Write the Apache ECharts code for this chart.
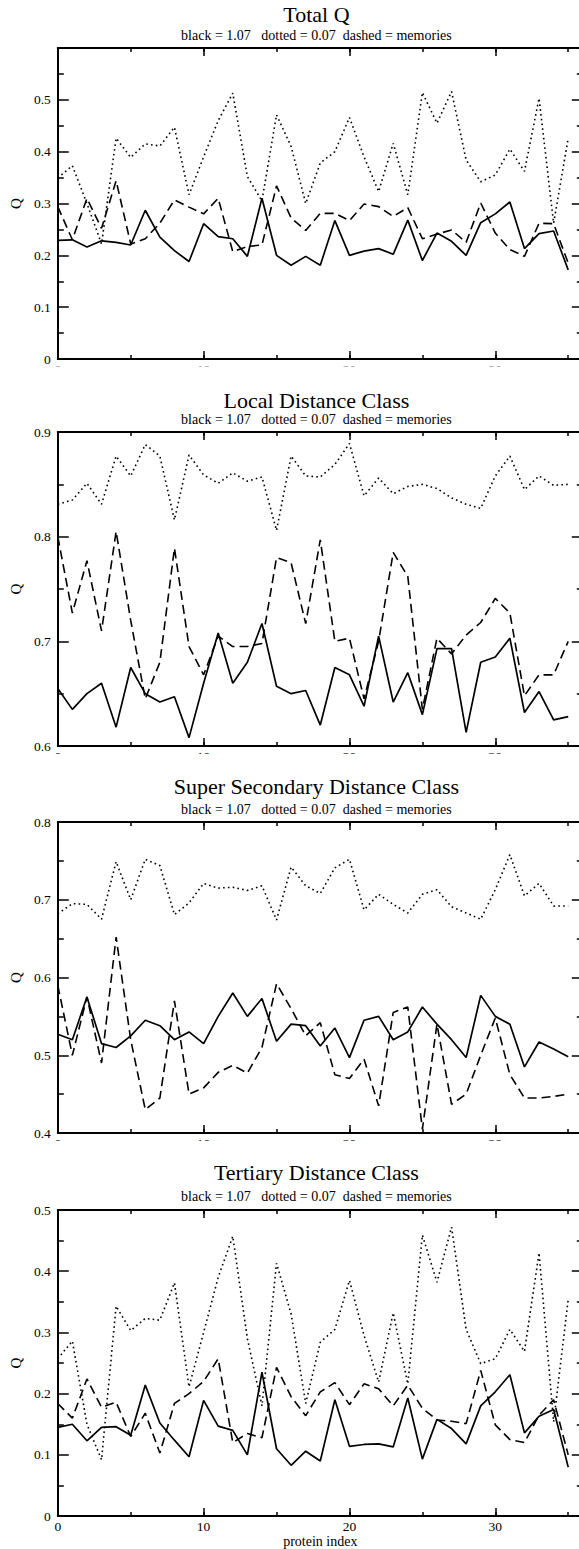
<!DOCTYPE html>
<html>
<head>
<meta charset="utf-8">
<script src="https://cdn.jsdelivr.net/npm/echarts@6/dist/echarts.min.js"></script>
<style>
html,body{margin:0;padding:0;background:#fff;overflow:hidden;}
#chart{width:600px;height:1549px;}
</style>
</head>
<body>
<div id="chart"></div>
<script>
// ---------------- data ----------------
const proteinIndex = [0,1,2,3,4,5,6,7,8,9,10,11,12,13,14,15,16,17,18,19,20,21,22,23,24,25,26,27,28,29,30,31,32,33,34,35];

const panelTitles = ['Total Q', 'Local Distance Class', 'Super Secondary Distance Class', 'Tertiary Distance Class'];
const subtitleText = 'black = 1.07\u00a0\u00a0 dotted = 0.07\u00a0 dashed = memories';
const yAxisName = 'Q';
const xAxisName = 'protein index';
const panelYMin = [0, 0.6, 0.4, 0];
const panelYMax = [0.6, 0.9, 0.8, 0.5];

const totalBlack  = [0.229,0.230,0.216,0.228,0.225,0.220,0.287,0.235,0.209,0.188,0.261,0.236,0.232,0.198,0.310,0.200,0.181,0.198,0.181,0.267,0.200,0.208,0.213,0.202,0.268,0.190,0.243,0.227,0.200,0.263,0.280,0.303,0.213,0.242,0.247,0.172];
const totalDotted = [0.349,0.373,0.300,0.222,0.426,0.389,0.415,0.411,0.447,0.317,0.390,0.460,0.513,0.352,0.305,0.471,0.410,0.300,0.378,0.400,0.466,0.390,0.323,0.416,0.317,0.514,0.455,0.516,0.384,0.342,0.355,0.405,0.362,0.503,0.262,0.426];
const totalDashed = [0.294,0.230,0.310,0.252,0.344,0.222,0.232,0.262,0.307,0.293,0.280,0.310,0.207,0.217,0.220,0.334,0.272,0.248,0.281,0.281,0.267,0.299,0.294,0.275,0.292,0.232,0.241,0.249,0.225,0.301,0.243,0.211,0.198,0.262,0.261,0.185];

const localBlack  = [0.655,0.635,0.650,0.660,0.618,0.675,0.650,0.642,0.647,0.608,0.660,0.708,0.660,0.680,0.717,0.657,0.650,0.653,0.620,0.675,0.668,0.638,0.705,0.642,0.670,0.630,0.693,0.693,0.613,0.680,0.685,0.703,0.632,0.652,0.625,0.628];
const localDotted = [0.831,0.835,0.851,0.831,0.877,0.858,0.888,0.877,0.816,0.878,0.859,0.851,0.861,0.853,0.857,0.806,0.877,0.858,0.857,0.869,0.889,0.839,0.856,0.841,0.848,0.850,0.846,0.837,0.831,0.827,0.858,0.877,0.845,0.858,0.849,0.850];
const localDashed = [0.800,0.727,0.777,0.710,0.805,0.720,0.645,0.680,0.789,0.695,0.668,0.705,0.695,0.695,0.698,0.780,0.775,0.717,0.797,0.700,0.703,0.645,0.700,0.785,0.762,0.635,0.703,0.688,0.706,0.718,0.741,0.727,0.648,0.668,0.668,0.700];

const superBlack  = [0.527,0.520,0.575,0.515,0.510,0.525,0.545,0.538,0.520,0.530,0.515,0.550,0.580,0.550,0.573,0.518,0.540,0.538,0.512,0.535,0.497,0.545,0.550,0.520,0.530,0.562,0.540,0.520,0.497,0.577,0.550,0.540,0.485,0.517,0.508,0.498];
const superDotted = [0.682,0.695,0.694,0.675,0.749,0.700,0.752,0.744,0.681,0.696,0.721,0.715,0.716,0.712,0.718,0.674,0.742,0.718,0.708,0.741,0.752,0.687,0.707,0.694,0.683,0.707,0.713,0.691,0.683,0.675,0.713,0.758,0.705,0.721,0.692,0.692];
const superDashed = [0.590,0.500,0.575,0.490,0.652,0.520,0.430,0.445,0.570,0.450,0.458,0.478,0.487,0.477,0.510,0.592,0.560,0.525,0.542,0.475,0.470,0.495,0.435,0.555,0.562,0.405,0.540,0.437,0.450,0.500,0.548,0.475,0.445,0.445,0.447,0.450];

const tertiaryBlack  = [0.145,0.150,0.123,0.145,0.146,0.132,0.214,0.152,0.124,0.097,0.189,0.147,0.140,0.100,0.235,0.110,0.083,0.106,0.090,0.190,0.114,0.117,0.118,0.113,0.193,0.093,0.158,0.143,0.118,0.180,0.203,0.231,0.136,0.163,0.174,0.080];
const tertiaryDotted = [0.257,0.286,0.150,0.092,0.343,0.303,0.323,0.320,0.381,0.211,0.300,0.390,0.457,0.290,0.180,0.413,0.330,0.184,0.284,0.305,0.385,0.295,0.219,0.332,0.216,0.459,0.382,0.472,0.305,0.249,0.257,0.305,0.269,0.430,0.154,0.354];
const tertiaryDashed = [0.184,0.160,0.224,0.178,0.186,0.130,0.168,0.103,0.184,0.200,0.220,0.257,0.120,0.135,0.128,0.243,0.195,0.164,0.203,0.218,0.182,0.216,0.208,0.180,0.214,0.176,0.157,0.155,0.151,0.238,0.149,0.125,0.120,0.165,0.190,0.100];

const panelSeries = [
  [totalBlack, totalDotted, totalDashed],
  [localBlack, localDotted, localDashed],
  [superBlack, superDotted, superDashed],
  [tertiaryBlack, tertiaryDotted, tertiaryDashed]
];

// ---------------- layout ----------------
const FONT = '"Liberation Serif", "DejaVu Serif", serif';
const gridLeft = 50;
const gridWidth = 36 * 14.8;
const gridTops = [48, 432, 822, 1210];
const gridHeights = [311, 314, 311, 309];
const titleY = [14, 400, 786, 1172];
const subY = [35, 419, 809, 1196];
const coverY = [366.5, 754, 1141];
const centerX = gridLeft + gridWidth / 2;

const grids = [], xAxes = [], yAxes = [], series = [], graphics = [];

function xAx(p, pos, major, showLabel, showLine) {
  return {
    gridIndex: p, type: 'value', position: pos, min: 0, max: 36,
    interval: major ? 10 : 5,
    axisLine: { show: showLine, onZero: false, lineStyle: { color: '#000', width: 2 } },
    axisTick: { show: true, inside: true, length: major ? 8 : 4, lineStyle: { color: '#000', width: 1.5 } },
    axisLabel: { show: showLabel, showMaxLabel: false, margin: 3, fontFamily: FONT, fontSize: 13.5, color: '#000' },
    splitLine: { show: false },
    name: (showLabel && p === 3) ? xAxisName : '',
    nameLocation: 'middle', nameGap: 17,
    nameTextStyle: { fontFamily: FONT, fontSize: 14, color: '#000' }
  };
}

function yAx(p, pos, showLabel) {
  return {
    gridIndex: p, type: 'value', position: pos,
    min: panelYMin[p], max: panelYMax[p], interval: 0.1,
    axisLine: { show: true, onZero: false, lineStyle: { color: '#000', width: 2 } },
    axisTick: { show: true, inside: true, length: 11, lineStyle: { color: '#000', width: 1.5 } },
    minorTick: { show: true, splitNumber: 2, length: 6, lineStyle: { color: '#000', width: 1.5 } },
    axisLabel: { show: showLabel, showMaxLabel: p !== 0, margin: 7, fontFamily: FONT, fontSize: 13.5, color: '#000' },
    splitLine: { show: false },
    name: showLabel ? yAxisName : '',
    nameLocation: 'middle', nameGap: 28, nameRotate: 90,
    nameTextStyle: { fontFamily: FONT, fontSize: 15, color: '#000' }
  };
}

const styles = [
  { type: 'solid', width: 1.7, z: 4 },
  { type: [1.6, 3.2], width: 1.6, z: 2 },
  { type: [9, 5], width: 1.6, z: 3 }
];

for (let p = 0; p < 4; p++) {
  grids.push({ left: gridLeft, top: gridTops[p], width: gridWidth, height: gridHeights[p], containLabel: false });
  const xBase = xAxes.length;
  xAxes.push(xAx(p, 'bottom', true, true, true));
  xAxes.push(xAx(p, 'bottom', false, false, false));
  xAxes.push(xAx(p, 'top', true, false, true));
  xAxes.push(xAx(p, 'top', false, false, false));
  const yBase = yAxes.length;
  yAxes.push(yAx(p, 'left', true));
  yAxes.push(yAx(p, 'right', false));
  panelSeries[p].forEach((arr, k) => {
    series.push({
      type: 'line', xAxisIndex: xBase, yAxisIndex: yBase,
      data: proteinIndex.map((x, i) => [x, arr[i]]),
      symbol: 'none', showSymbol: false, silent: true, z: styles[k].z,
      lineStyle: { color: '#000', width: styles[k].width, type: styles[k].type, cap: 'butt' }
    });
  });
  graphics.push({
    type: 'text', x: centerX, y: titleY[p], z: 200,
    style: { text: panelTitles[p], fontFamily: FONT, fontSize: 22, fill: '#000', align: 'center', verticalAlign: 'middle' }
  });
  graphics.push({
    type: 'text', x: centerX, y: subY[p], z: 200,
    style: { text: subtitleText, fontFamily: FONT, fontSize: 14, fill: '#000', align: 'center', verticalAlign: 'middle' }
  });
}
coverY.forEach(y => {
  graphics.push({ type: 'rect', z: 100, shape: { x: 0, y: y, width: 600, height: 18 }, style: { fill: '#fff' } });
});

const chart = echarts.init(document.getElementById('chart'), null, { renderer: 'svg' });
chart.setOption({
  animation: false,
  backgroundColor: '#fff',
  grid: grids,
  xAxis: xAxes,
  yAxis: yAxes,
  series: series,
  graphic: graphics
});
</script>
</body>
</html>
